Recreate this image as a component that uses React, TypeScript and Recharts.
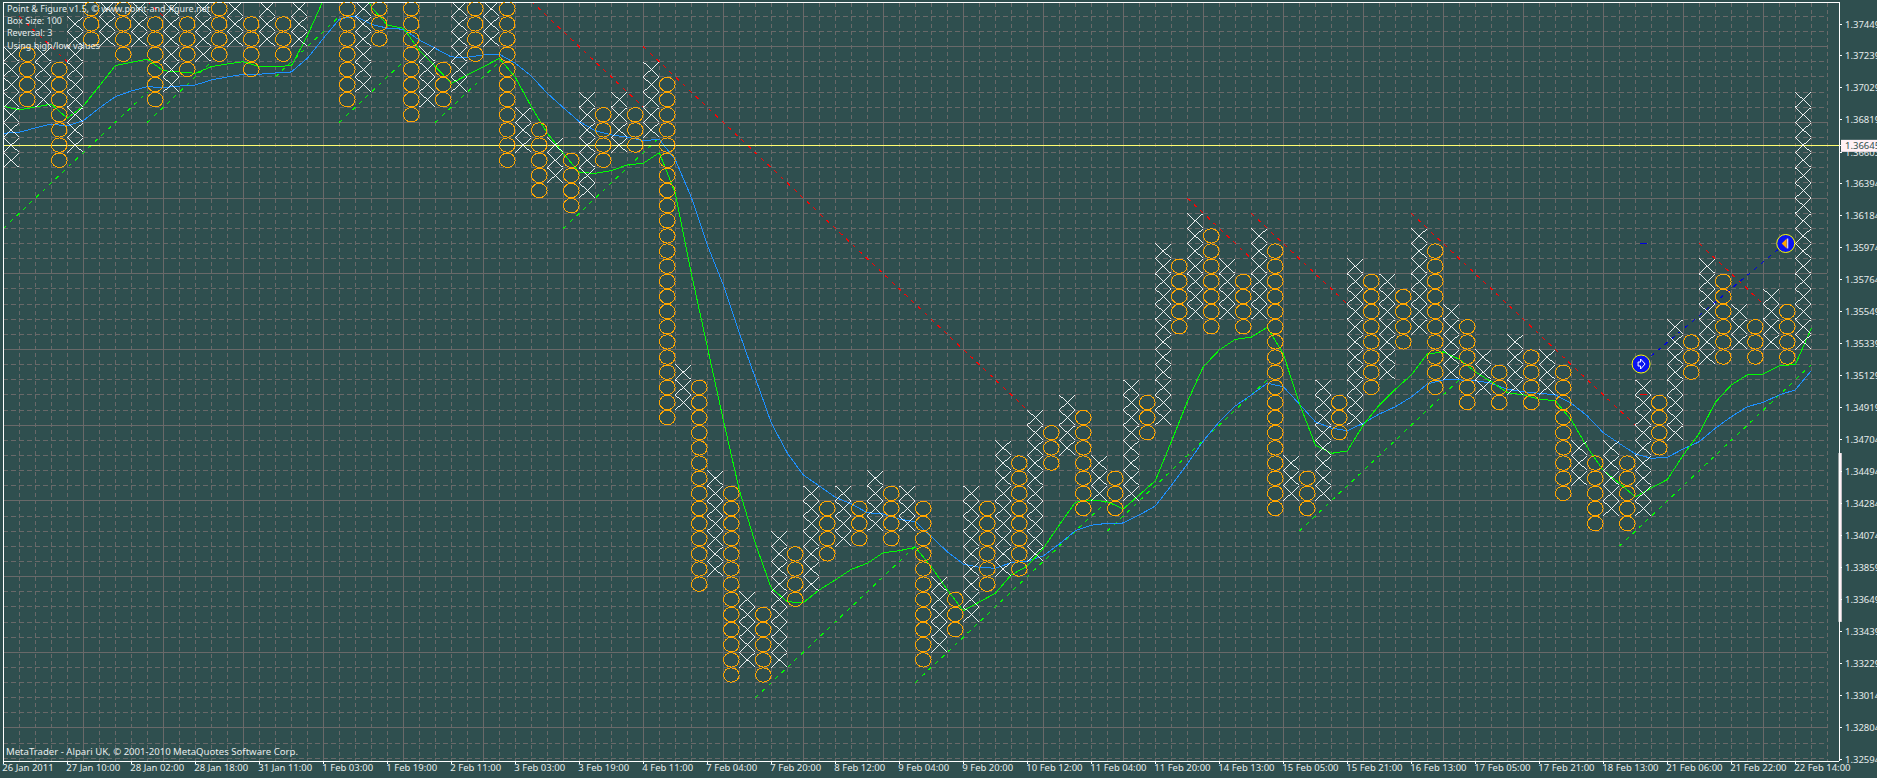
import React from "react";
import {
  ComposedChart,
  Line,
  Scatter,
  XAxis,
  YAxis,
  ReferenceLine,
  ReferenceArea,
} from "recharts";

/* Point & Figure columns: upper and lower edge of each column, in 0.001 price units */
const columnTops: (number | null)[] = [
  1373, 1373, 1373, 1372, 1375, 1376, 1376, 1376, 1376, 1375,
  1376, 1375, 1376, 1376, 1376, 1375, 1376, 1375, 1376, null,
  null, 1376, 1376, 1376, null, 1376, 1373, 1372, 1376, 1376,
  1376, 1376, 1369, 1368, 1367, 1366, 1370, 1369, 1370, 1369,
  1372, 1371, 1352, 1351, 1345, 1344, 1337, 1336, 1341, 1340,
  1344, 1343, 1344, 1343, 1345, 1344, 1344, 1343, 1338, 1337,
  1344, 1343, 1347, 1346, 1349, 1348, 1350, 1349, 1346, 1345,
  1351, 1350, 1360, 1359, 1362, 1361, 1359, 1358, 1361, 1360,
  1346, 1345, 1351, 1350, 1359, 1358, 1358, 1357, 1361, 1360,
  1356, 1355, 1353, 1352, 1354, 1353, 1353, 1352, 1347, 1346,
  1347, 1346, 1351, 1350, 1355, 1354, 1359, 1358, 1356, 1355,
  1357, 1356, 1370,
];
const columnBottoms: (number | null)[] = [
  1365, 1369, 1369, 1365, 1366, 1373, 1373, 1372, 1373, 1369,
  1370, 1371, 1372, 1372, 1373, 1371, 1373, 1372, 1373, null,
  null, 1369, 1370, 1373, null, 1368, 1369, 1369, 1370, 1372,
  1373, 1365, 1366, 1363, 1364, 1362, 1363, 1365, 1366, 1366,
  1367, 1348, 1349, 1337, 1338, 1331, 1332, 1331, 1332, 1336,
  1337, 1339, 1340, 1340, 1341, 1340, 1341, 1332, 1333, 1334,
  1335, 1337, 1338, 1338, 1339, 1345, 1346, 1342, 1343, 1342,
  1343, 1347, 1348, 1354, 1355, 1354, 1355, 1354, 1355, 1342,
  1343, 1342, 1343, 1347, 1348, 1350, 1351, 1353, 1354, 1350,
  1351, 1349, 1350, 1349, 1350, 1349, 1350, 1343, 1344, 1341,
  1342, 1341, 1342, 1346, 1347, 1351, 1352, 1352, 1353, 1352,
  1353, 1352, 1353,
];

/* Moving averages, one value per column edge starting one column before the first */
const greenAverage = [
  1369.08, 1368.82, 1369.02, 1369.2, 1368.27, 1369.08, 1370.4, 1371.75, 1371.96, 1372.17,
  1371.41, 1371.33, 1371.24, 1371.68, 1371.86, 1372.01, 1371.68, 1371.71, 1371.73, 1373.71,
  1376.08, 1378.5, 1378.0, 1375.62, 1374.43, 1374.22, 1372.78, 1371.68, 1370.58, 1371.13,
  1371.66, 1372.23, 1370.98, 1369.04, 1367.28, 1365.96, 1364.68, 1364.64, 1364.81, 1365.19,
  1365.3, 1366.0, 1363.32, 1358.03, 1353.18, 1348.34, 1343.72, 1340.2, 1337.23, 1336.34,
  1336.28, 1337.12, 1337.78, 1338.48, 1338.88, 1339.58, 1339.71, 1339.94, 1338.65, 1337.12,
  1335.75, 1336.32, 1336.9, 1338.11, 1338.7, 1339.87, 1341.41, 1342.91, 1343.06, 1342.95,
  1342.47, 1343.39, 1344.33, 1346.91, 1349.55, 1351.86, 1352.97, 1353.67, 1353.81, 1354.47,
  1352.7, 1349.45, 1346.69, 1346.14, 1346.3, 1348.01, 1349.33, 1350.37, 1351.32, 1352.7,
  1352.84, 1352.35, 1351.53, 1350.87, 1350.15, 1350.0, 1349.71, 1349.62, 1348.34, 1346.54,
  1345.0, 1344.16, 1343.26, 1343.85, 1344.41, 1346.03, 1347.47, 1349.51, 1350.66, 1351.32,
  1351.38, 1351.93, 1352.0, 1354.4,
];
const blueAverage = [
  1367.28, 1367.35, 1367.63, 1367.89, 1367.76, 1368.11, 1368.95, 1369.7, 1370.07, 1370.36,
  1370.29, 1370.4, 1370.47, 1370.8, 1371.0, 1371.18, 1371.18, 1371.26, 1371.33, 1372.23,
  1373.55, 1374.81, 1375.03, 1374.48, 1374.22, 1374.15, 1373.44, 1372.89, 1372.32, 1372.3,
  1372.45, 1372.5, 1371.9, 1371.06, 1369.92, 1368.97, 1368.05, 1367.45, 1367.17, 1367.02,
  1366.79, 1366.88, 1365.52, 1363.05, 1359.9, 1357.26, 1354.09, 1351.12, 1348.15, 1346.16,
  1344.71, 1343.98, 1343.24, 1342.8, 1342.22, 1342.13, 1341.8, 1341.63, 1340.64, 1339.64,
  1338.83, 1338.61, 1338.55, 1338.92, 1339.03, 1339.36, 1340.15, 1341.03, 1341.39, 1341.52,
  1341.54, 1342.07, 1342.66, 1344.02, 1345.44, 1346.96, 1348.23, 1349.27, 1350.0, 1350.77,
  1350.54, 1349.4, 1348.23, 1347.8, 1347.64, 1348.13, 1348.74, 1349.22, 1349.86, 1350.72,
  1350.99, 1350.99, 1350.94, 1350.77, 1350.37, 1350.21, 1350.11, 1350.0, 1349.45, 1348.61,
  1347.5, 1346.8, 1346.1, 1345.81, 1345.88, 1346.43, 1346.91, 1347.8, 1348.56, 1349.22,
  1349.51, 1350.0, 1350.33, 1351.6,
];

/* Trend lines: [start edge, start level, end edge, end level] */
const supportLines = [
  [-1, 1361, 8, 1370], [8, 1368, 12, 1372], [16, 1371, 20, 1375], [20, 1368, 24, 1372],
  [26, 1368, 30, 1372], [34, 1361, 40, 1367], [46, 1330, 56, 1340], [56, 1331, 68, 1343],
  [68, 1341, 78, 1351], [80, 1341, 90, 1351], [100, 1340, 112, 1352],
];
const resistanceLines = [
  [0, 1375, 3, 1372], [8, 1376, 9, 1375], [32, 1376, 39, 1369], [39, 1373, 63, 1349],
  [73, 1363, 77, 1359], [77, 1362, 83, 1356], [87, 1362, 101, 1348], [105, 1360, 109, 1356],
];
const tradeLine = [[102.04, 1352.17], [110.86, 1360]];
const signalMarks = [
  { x: 101.86, y: 1352.04, kind: "buy" },
  { x: 110.9, y: 1360, kind: "sell" },
];
const priceNow = 1.36645;

const priceTicks = [
  1.37449, 1.37239, 1.37029, 1.36819, 1.36603, 1.36394, 1.36184, 1.35974, 1.35764, 1.35549,
  1.35339, 1.35129, 1.34919, 1.34704, 1.34494, 1.34284, 1.34074, 1.33859, 1.33649, 1.33439,
  1.33229, 1.33014, 1.32804, 1.32594, 1.36645,
];
const dateLabels = [
  "26 Jan 2011", "27 Jan 10:00", "28 Jan 02:00", "28 Jan 18:00", "31 Jan 11:00", "1 Feb 03:00",
  "1 Feb 19:00", "2 Feb 11:00", "3 Feb 03:00", "3 Feb 19:00", "4 Feb 11:00", "7 Feb 04:00",
  "7 Feb 20:00", "8 Feb 12:00", "9 Feb 04:00", "9 Feb 20:00", "10 Feb 12:00", "11 Feb 04:00",
  "11 Feb 20:00", "14 Feb 13:00", "15 Feb 05:00", "15 Feb 21:00", "16 Feb 13:00", "17 Feb 05:00",
  "17 Feb 21:00", "18 Feb 13:00", "21 Feb 06:00", "21 Feb 22:00", "22 Feb 14:00",
];
const infoLines = [
  "Point & Figure v1.5, © www.point-and-figure.net",
  "Box Size: 100",
  "Reversal: 3",
  "Using high/low values",
];
const footerText = "MetaTrader - Alpari UK, © 2001-2010 MetaQuotes Software Corp.";

const FONT = '"Noto Sans", sans-serif';
const TEXT = "#E6ECEC";
const BG = "#2F4F4F";
const GRID = "#696969";
const LABEL_BG = "#FFF0F5";

const xDomain: [number, number] = [-0.519, 114.23];
const yDomain: [number, number] = [1.32582, 1.37595];

const boxes: { x: number; y: number; kind: string }[] = [];
columnTops.forEach((top, col) => {
  const bottom = columnBottoms[col];
  if (top === null || bottom === null) return;
  for (let level = bottom; level < top; level++) {
    boxes.push({ x: col, y: (level + 0.5) / 1000, kind: col % 2 === 0 ? "X" : "O" });
  }
});
const edgeSeries = (values: number[]) =>
  values.map((v, i) => ({ x: i - 0.5, y: v / 1000 }));
const segment = (s: number[]) => [
  { x: s[0] + 0.5, y: s[1] / 1000 },
  { x: s[2] + 0.5, y: s[3] / 1000 },
];
const greenData = edgeSeries(greenAverage);
const blueData = edgeSeries(blueAverage);
const tradeData = tradeLine.map((p) => ({ x: p[0], y: p[1] / 1000 }));
const signalData = signalMarks.map((m) => ({ x: m.x, y: m.y / 1000, kind: m.kind }));
const dateTicks = dateLabels.map((_, i) => -0.5 + 4 * i);
const gridEdges = Array.from({ length: 114 }, (_, i) => i + 0.5);
const gridLevels = Array.from({ length: 50 }, (_, i) => 1326 + i);

const BoxShape = (p: any) => {
  const { cx, cy, payload } = p;
  if (payload.kind === "X") {
    return (
      <g stroke="#FFFFFF" strokeWidth={0.9} style={{ shapeRendering: "crispEdges" }}>
        <line x1={cx - 8} y1={cy - 7.5} x2={cx + 8} y2={cy + 7.5} />
        <line x1={cx - 8} y1={cy + 7.5} x2={cx + 8} y2={cy - 7.5} />
      </g>
    );
  }
  return (
    <ellipse
      cx={cx}
      cy={cy}
      rx={7.8}
      ry={7.2}
      fill="none"
      stroke="#FFA500"
      strokeWidth={1}
      style={{ shapeRendering: "crispEdges" }}
    />
  );
};

const SignalShape = (p: any) => {
  const { cx, cy, payload } = p;
  return (
    <g>
      <circle cx={cx} cy={cy} r={9} fill="#0A14F0" stroke="#FFFF00" strokeWidth={1} />
      {payload.kind === "buy" ? (
        <path
          d={`M${cx - 3} ${cy - 2}h2.5v-3l4.5 5l-4.5 5v-3h-2.5z`}
          fill="none"
          stroke="#FFFFFF"
          strokeWidth={1}
        />
      ) : (
        <g>
          <path d={`M${cx - 4} ${cy}l5 -5v10z`} fill="#FFA500" />
          <line x1={cx + 2} y1={cy - 5} x2={cx + 2} y2={cy + 5} stroke="#FFFFFF" strokeWidth={1} />
        </g>
      )}
    </g>
  );
};

const PriceTick = (p: any) => {
  const { x, y, payload } = p;
  const isNow = payload.value === priceNow;
  return (
    <g>
      {isNow && <rect x={x - 4} y={y - 6} width={40} height={12} fill={LABEL_BG} />}
      <text x={x} y={y + 3.5} fontFamily={FONT} fontSize={9.5} fill={isNow ? BG : TEXT}>
        {payload.value.toFixed(5)}
      </text>
    </g>
  );
};

const DateTick = (p: any) => {
  const { x, y, payload, index } = p;
  return (
    <text x={x - 1} y={y + 7} fontFamily={FONT} fontSize={9.5} fill={TEXT}>
      {dateLabels[index] ?? String(payload.value)}
    </text>
  );
};

const textStyle: React.CSSProperties = {
  position: "absolute",
  left: 7,
  fontFamily: FONT,
  fontSize: 9,
  lineHeight: "12px",
  color: TEXT,
  whiteSpace: "nowrap",
};

const commonLine = { dot: false, isAnimationActive: false, legendType: "none" as const, type: "linear" as const };

export default function App() {
  return (
    <div
      style={{
        position: "absolute",
        left: 0,
        top: 0,
        width: 1877,
        height: 778,
        overflow: "hidden",
        background: BG,
      }}
    >
      <style>{`.recharts-reference-line-line, .recharts-line-curve, .recharts-cartesian-axis-line, .recharts-cartesian-axis-tick-line { shape-rendering: crispEdges; }`}</style>
      <ComposedChart
        width={1877}
        height={778}
        margin={{ top: 2, left: 3, right: 0, bottom: 0 }}
        style={{ background: BG }}
      >
        <XAxis
          type="number"
          dataKey="x"
          domain={xDomain}
          allowDataOverflow
          ticks={dateTicks}
          interval={0}
          height={17}
          tick={DateTick}
          tickSize={3}
          tickMargin={0}
          stroke="#FFFFFF"
          tickLine={{ stroke: "#FFFFFF" }}
          axisLine={{ stroke: "#FFFFFF" }}
        />
        <YAxis
          type="number"
          dataKey="y"
          orientation="right"
          domain={yDomain}
          allowDataOverflow
          ticks={priceTicks}
          interval={0}
          width={38}
          tick={PriceTick}
          tickSize={3}
          tickMargin={3}
          tickLine={{ stroke: "#FFFFFF" }}
          axisLine={{ stroke: "#FFFFFF" }}
        />

        {gridLevels.map((lv) => (
          <ReferenceLine
            key={`h${lv}`}
            segment={[
              { x: xDomain[0], y: lv / 1000 },
              { x: 113.5, y: lv / 1000 },
            ]}
            stroke={GRID}
            strokeWidth={1}
            strokeDasharray={(lv - 1373) % 5 === 0 ? undefined : "5 3"}
          />
        ))}
        {gridEdges.map((e, i) => (
          <ReferenceLine
            key={`v${e}`}
            segment={[
              { x: e, y: 1.3759 },
              { x: e, y: yDomain[0] },
            ]}
            stroke={GRID}
            strokeWidth={1}
            strokeDasharray={i % 5 === 4 ? undefined : "4 3"}
          />
        ))}

        <Scatter data={boxes} shape={BoxShape} isAnimationActive={false} legendType="none" />

        {supportLines.map((s, i) => (
          <Line
            key={`s${i}`}
            {...commonLine}
            data={segment(s)}
            dataKey="y"
            stroke="#00FF00"
            strokeWidth={1}
            strokeDasharray="4 5"
          />
        ))}
        {resistanceLines.map((s, i) => (
          <Line
            key={`r${i}`}
            {...commonLine}
            data={segment(s)}
            dataKey="y"
            stroke="#FF0000"
            strokeWidth={1}
            strokeDasharray="4 5"
          />
        ))}
        <Line {...commonLine} data={blueData} dataKey="y" stroke="#1E90FF" strokeWidth={1} />
        <Line {...commonLine} data={greenData} dataKey="y" stroke="#00FF00" strokeWidth={1} />
        <Line
          {...commonLine}
          data={tradeData}
          dataKey="y"
          stroke="#0000E0"
          strokeWidth={1}
          strokeDasharray="4 5"
        />
        <Line
          {...commonLine}
          data={[{ x: 101.8, y: 1.36 }, { x: 102.2, y: 1.36 }]}
          dataKey="y"
          stroke="#0000E0"
          strokeWidth={1}
        />
        <Line
          {...commonLine}
          data={[{ x: 101.8, y: 1.35 }, { x: 102.2, y: 1.35 }]}
          dataKey="y"
          stroke="#FF0000"
          strokeWidth={1}
        />
        <Scatter data={signalData} shape={SignalShape} isAnimationActive={false} legendType="none" />

        <ReferenceLine y={priceNow} stroke="#FFFF70" strokeWidth={1} />
        <ReferenceLine y={1.3759} ifOverflow="visible" stroke="#FFFFFF" strokeWidth={1} />
        <ReferenceLine x={-0.49} ifOverflow="visible" stroke="#FFFFFF" strokeWidth={1} />
        <ReferenceArea
          x1={114.2}
          x2={114.4}
          y1={1.33501}
          y2={1.34616}
          ifOverflow="visible"
          fill={LABEL_BG}
          fillOpacity={1}
          stroke="none"
        />
      </ComposedChart>

      {infoLines.map((t, i) => (
        <div key={t} style={{ ...textStyle, top: 3 + i * 12.2 }}>
          {t}
        </div>
      ))}
      <div style={{ ...textStyle, fontSize: 9.6, left: 6, top: 746 }}>{footerText}</div>
    </div>
  );
}
